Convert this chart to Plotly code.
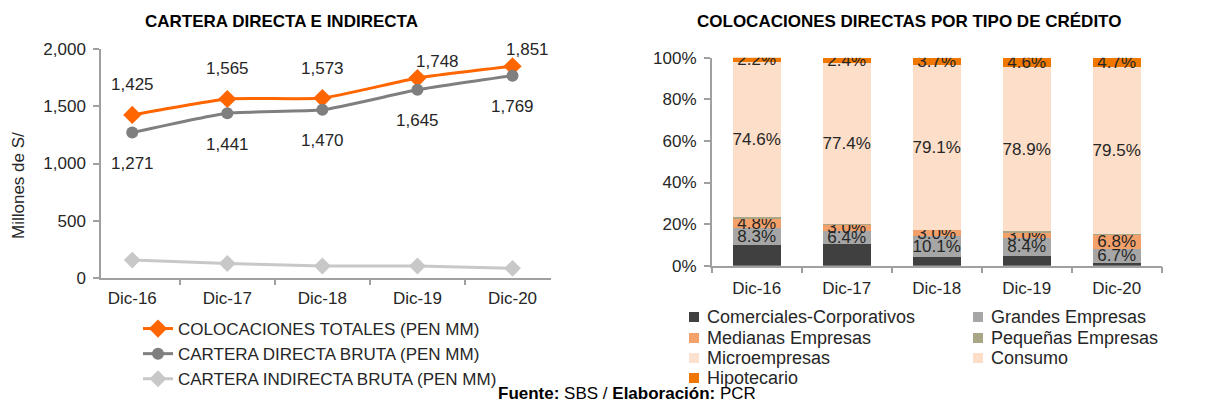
import plotly.graph_objects as go

# ---------------- data ----------------
categories = ["Dic-16", "Dic-17", "Dic-18", "Dic-19", "Dic-20"]

colocaciones_totales = [1425, 1565, 1573, 1748, 1851]
cartera_directa = [1271, 1441, 1470, 1645, 1769]
cartera_indirecta = [154, 124, 103, 103, 82]

comerciales = [9.8, 10.5, 4.1, 4.8, 1.5]
grandes = [8.3, 6.4, 10.1, 8.4, 6.7]
medianas = [4.8, 3.0, 3.0, 3.0, 6.8]
pequenas = [0.4, 0.3, 0.0, 0.3, 0.5]
micro = [0.0, 0.0, 0.0, 0.0, 0.3]
consumo = [74.6, 77.4, 79.1, 78.9, 79.5]
hipotecario = [2.2, 2.4, 3.7, 4.6, 4.7]

y_ticks_left = [0, 500, 1000, 1500, 2000]
y_ticks_right = [0, 20, 40, 60, 80, 100]
y_ticktext_right = ["0%", "20%", "40%", "60%", "80%", "100%"]

# ---------------- style helpers ----------------
OFF = 8                      # page body margin
W, H = 1215 - OFF, 405 - OFF
FONT = "Arial, Liberation Sans, sans-serif"
TXT = "#262626"
AX = "#A0A0A0"


def px(x):
    return (x - OFF) / W


def py(y):
    return 1 - (y - OFF) / H


fig = go.Figure()

# ---------- left chart: lines ----------
fig.add_trace(go.Scatter(
    x=categories, y=colocaciones_totales, name="COLOCACIONES TOTALES (PEN MM)",
    mode="lines+markers", line=dict(color="#FF6600", width=3, shape="spline", smoothing=0.5),
    marker=dict(symbol="diamond", size=14, color="#FF6600"),
    xaxis="x", yaxis="y", legendgroup="a"))
fig.add_trace(go.Scatter(
    x=categories, y=cartera_directa, name="CARTERA DIRECTA BRUTA (PEN MM)",
    mode="lines+markers", line=dict(color="#7F7F7F", width=3, shape="spline", smoothing=0.5),
    marker=dict(symbol="circle", size=12, color="#7F7F7F"),
    xaxis="x", yaxis="y", legendgroup="b"))
fig.add_trace(go.Scatter(
    x=categories, y=cartera_indirecta, name="CARTERA INDIRECTA BRUTA (PEN MM)",
    mode="lines+markers", line=dict(color="#C8C8C8", width=3, shape="spline", smoothing=0.5),
    marker=dict(symbol="diamond", size=13, color="#C8C8C8"),
    xaxis="x", yaxis="y", legendgroup="c"))

# value labels for lines
top_shift = [(0, 30), (0, 30), (0, 30), (20, 17), (15, 17)]
for i, (c, v) in enumerate(zip(categories, colocaciones_totales)):
    fig.add_annotation(x=c, y=v, xref="x", yref="y", text=f"{v:,}", showarrow=False,
                       xshift=top_shift[i][0], yshift=top_shift[i][1],
                       font=dict(family=FONT, size=17, color=TXT))
for c, v in zip(categories, cartera_directa):
    fig.add_annotation(x=c, y=v, xref="x", yref="y", text=f"{v:,}", showarrow=False,
                       yshift=-31, font=dict(family=FONT, size=17, color=TXT))

# ---------- right chart: stacked bars ----------
bar_series = [
    ("Comerciales-Corporativos", comerciales, "#404040", False),
    ("Grandes Empresas", grandes, "#A6A6A6", True),
    ("Medianas Empresas", medianas, "#F4A06A", True),
    ("Pequeñas Empresas", pequenas, "#A8A686", False),
    ("Microempresas", micro, "#FCE0D0", False),
    ("Consumo", consumo, "#FDDEC9", True),
    ("Hipotecario", hipotecario, "#F07800", True),
]
for name, vals, color, show_text in bar_series:
    fig.add_trace(go.Bar(
        x=categories, y=vals, name=name, marker=dict(color=color, line=dict(width=0)),
        text=[f"{v:.1f}%" for v in vals] if show_text else None,
        textposition="inside" if show_text else "none",
        insidetextanchor="middle", constraintext="none", textangle=0,
        textfont=dict(family=FONT, size=17, color=TXT),
        hoverinfo="name+y", showlegend=False,
        xaxis="x2", yaxis="y2"))

# manual two-column legend for the bar chart (texts as real text)
leg_cols = [(689, 705), (973, 989)]
leg_rows = [317, 338, 358, 378]
for k, (name, vals, color, show_text) in enumerate(bar_series):
    col, row = k % 2, k // 2
    sx, tx = leg_cols[col]
    cy = leg_rows[row]
    fig.add_shape(type="rect", xref="paper", yref="paper",
                  x0=px(sx), x1=px(sx + 10), y0=py(cy + 5), y1=py(cy - 5),
                  fillcolor=color, line=dict(width=0))
    fig.add_annotation(x=px(tx), y=py(cy), xref="paper", yref="paper", showarrow=False,
                       xanchor="left", yanchor="middle", text=name,
                       font=dict(family=FONT, size=18, color=TXT))

# ---------------- layout ----------------
axis_common = dict(showline=True, linecolor=AX, linewidth=1.5, showgrid=False, zeroline=False,
                   ticks="outside", tickcolor=AX, ticklen=6, tickwidth=1.5,
                   tickfont=dict(family=FONT, size=17, color=TXT))

fig.update_layout(
    width=W, height=H, margin=dict(l=0, r=0, t=0, b=0, autoexpand=False),
    paper_bgcolor="white", plot_bgcolor="white",
    font=dict(family=FONT, size=17, color=TXT),
    barmode="stack", bargap=0.467,
    uniformtext=dict(minsize=17, mode="show"),
    xaxis=dict(domain=[px(101), px(551)], anchor="y", tickson="boundaries",
               ticklabelstandoff=4, **axis_common),
    yaxis=dict(domain=[py(277.7), py(49.3)], anchor="x", range=[0, 2000],
               tickvals=y_ticks_left, tickformat=",d", ticklabelstandoff=4, **axis_common),
    xaxis2=dict(domain=[px(711.7), px(1161.7)], anchor="y2", tickson="boundaries",
                ticklabelstandoff=6, **axis_common),
    yaxis2=dict(domain=[py(265.7), py(57.7)], anchor="x2", range=[0, 100],
                tickvals=y_ticks_right, ticktext=y_ticktext_right,
                ticklabelstandoff=4, **axis_common),
    legend=dict(x=px(138), y=py(311), xanchor="left", yanchor="top", orientation="v",
                font=dict(family=FONT, size=17, color=TXT), bgcolor="rgba(0,0,0,0)",
                tracegroupgap=0, itemwidth=30),
    showlegend=True,
)

# titles
fig.add_annotation(x=px(281), y=py(22), xref="paper", yref="paper", showarrow=False,
                   xanchor="center", yanchor="middle",
                   text="<b>CARTERA DIRECTA E INDIRECTA</b>",
                   font=dict(family=FONT, size=17, color="#000000"))
fig.add_annotation(x=px(909), y=py(22), xref="paper", yref="paper", showarrow=False,
                   xanchor="center", yanchor="middle",
                   text="<b>COLOCACIONES DIRECTAS POR TIPO DE CRÉDITO</b>",
                   font=dict(family=FONT, size=17, color="#000000"))
# y axis title
fig.add_annotation(x=px(18), y=py(186), xref="paper", yref="paper", showarrow=False,
                   xanchor="center", yanchor="middle",
                   text="Millones de S/", textangle=-90,
                   font=dict(family=FONT, size=17, color=TXT))
# footer
fig.add_annotation(x=px(627), y=py(393), xref="paper", yref="paper", showarrow=False,
                   xanchor="center", yanchor="middle",
                   text="<b>Fuente:</b> SBS / <b>Elaboración:</b> PCR",
                   font=dict(family=FONT, size=17, color="#000000"))

fig.write_html("out.html")
